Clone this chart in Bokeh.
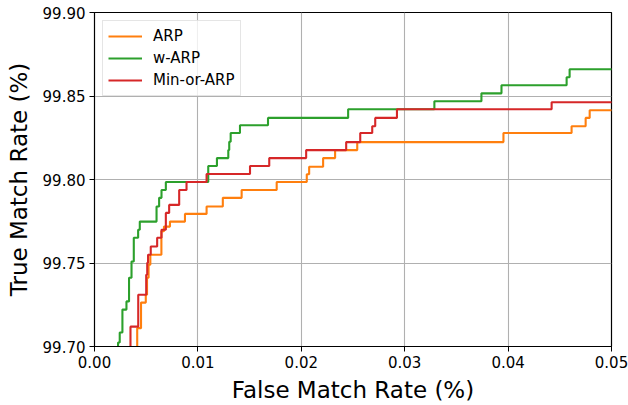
from bokeh.plotting import figure
from bokeh.models import Range1d, FixedTicker, NumeralTickFormatter, Legend, LegendItem
from bokeh.embed import file_html
from bokeh.resources import INLINE

# ---- data (step "post": at fmr[i] the curve jumps to tmr[i]) ----
arp_fmr = [0.00413, 0.00413, 0.00450, 0.00496, 0.00508, 0.00523, 0.00540, 0.00647,
           0.00672, 0.00730, 0.00875, 0.01084, 0.01241, 0.01423, 0.01762, 0.02053,
           0.02076, 0.02211, 0.02327, 0.02541, 0.03955, 0.04614, 0.04750, 0.04789, 0.0505]
arp_tmr = [99.69, 99.7110, 99.7263, 99.7310, 99.7412, 99.7490, 99.7549, 99.7690,
           99.7718, 99.7748, 99.7794, 99.7838, 99.7890, 99.7937, 99.7985, 99.8031,
           99.8076, 99.8128, 99.8176, 99.8224, 99.8278, 99.8319, 99.8369, 99.8415, 99.8415]

warp_fmr = [0.00228, 0.00228, 0.00244, 0.00270, 0.00309, 0.00334, 0.00358, 0.00380,
            0.00422, 0.00438, 0.00600, 0.00625, 0.00648, 0.00690, 0.01100, 0.01184,
            0.01294, 0.01303, 0.01317, 0.01407, 0.01678, 0.02453, 0.03287, 0.03742,
            0.03936, 0.04566, 0.04595, 0.0505]
warp_tmr = [99.69, 99.7024, 99.7084, 99.7221, 99.7270, 99.7412, 99.7509, 99.7651,
            99.7699, 99.7748, 99.7838, 99.7890, 99.7937, 99.7985, 99.8081, 99.8128,
            99.8176, 99.8226, 99.8278, 99.8325, 99.8369, 99.8421, 99.8469, 99.8516,
            99.8564, 99.8612, 99.8660, 99.8660]

minor_fmr = [0.00348, 0.00348, 0.00423, 0.00500, 0.00510, 0.00518, 0.00544, 0.00606,
             0.00648, 0.00690, 0.00722, 0.00819, 0.00890, 0.01084, 0.01504, 0.01690,
             0.02047, 0.02434, 0.02570, 0.02686, 0.02715, 0.02925, 0.04421, 0.0505]
minor_tmr = [99.69, 99.7119, 99.7310, 99.7430, 99.7501, 99.7549, 99.7599, 99.7651,
             99.7699, 99.7800, 99.7848, 99.7937, 99.7985, 99.8033, 99.8081, 99.8128,
             99.8176, 99.8224, 99.8278, 99.8319, 99.8369, 99.8421, 99.8463, 99.8463]

series_names = ["ARP", "w-ARP", "Min-or-ARP"]
series_colors = ["#ff7f0e", "#2ca02c", "#d62728"]

x_ticks = [0.00, 0.01, 0.02, 0.03, 0.04, 0.05]
y_ticks = [99.70, 99.75, 99.80, 99.85, 99.90]

FONT = "DejaVu Sans"

p = figure(width=628, height=405, output_backend="svg", toolbar_location=None,
           x_range=Range1d(0.0, 0.05), y_range=Range1d(99.70, 99.90),
           min_border_left=94, min_border_right=17, min_border_top=12, min_border_bottom=58)

p.background_fill_color = "white"
p.border_fill_color = "white"
p.outline_line_color = "black"
p.outline_line_width = 1.2

for ax in (p.xaxis[0], p.yaxis[0]):
    ax.major_label_text_font = FONT
    ax.major_label_text_font_size = "15px"
    ax.major_label_text_color = "black"
    ax.axis_label_text_font = FONT
    ax.axis_label_text_font_size = "23px"
    ax.axis_label_text_font_style = "normal"
    ax.axis_label_text_color = "black"
    ax.axis_line_color = "black"
    ax.major_tick_line_color = "black"
    ax.major_tick_in = 0
    ax.major_tick_out = 5
    ax.minor_tick_line_color = None
    ax.major_label_standoff = 4
    ax.formatter = NumeralTickFormatter(format="0.00")

p.xaxis.ticker = FixedTicker(ticks=x_ticks)
p.yaxis.ticker = FixedTicker(ticks=y_ticks)
p.xaxis.axis_label = "False Match Rate (%)"
p.yaxis.axis_label = "True Match Rate (%)"
p.xaxis.axis_label_standoff = 6
p.yaxis.axis_label_standoff = 8

p.xgrid.ticker = FixedTicker(ticks=x_ticks)
p.ygrid.ticker = FixedTicker(ticks=y_ticks)
p.grid.grid_line_color = "#b0b0b0"
p.grid.grid_line_width = 1.1

renderers = []
for xs, ys, c in [(arp_fmr, arp_tmr, series_colors[0]),
                  (warp_fmr, warp_tmr, series_colors[1]),
                  (minor_fmr, minor_tmr, series_colors[2])]:
    r = p.step(xs, ys, mode="after", line_color=c, line_width=2.1)
    renderers.append(r)

legend = Legend(items=[LegendItem(label=n, renderers=[r]) for n, r in zip(series_names, renderers)],
                location="top_left")
legend.margin = 8
legend.padding = 5
legend.spacing = 2
legend.label_height = 20
legend.glyph_height = 20
legend.glyph_width = 34
legend.label_standoff = 11
legend.label_text_font = FONT
legend.label_text_font_size = "15px"
legend.label_text_color = "black"
legend.border_line_color = "#cccccc"
legend.border_line_width = 1
legend.background_fill_color = "white"
legend.background_fill_alpha = 0.8
p.add_layout(legend)

open("out.html", "w").write(file_html(p, INLINE))
